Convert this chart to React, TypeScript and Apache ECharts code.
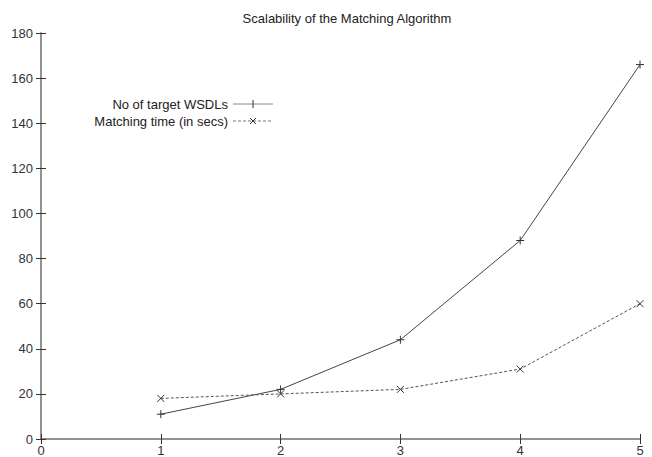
import React, { useEffect, useRef } from "react";
import * as echarts from "echarts";

const xValues = [1, 2, 3, 4, 5];
const targetWsdls = [11, 22, 44, 88, 166];
const matchingTime = [18, 20, 22, 31, 60];
const titleText = "Scalability of the Matching Algorithm";
const seriesNames = ["No of target WSDLs", "Matching time (in secs)"];

const PLUS = "path://M0,-5L0,5M-5,0L5,0";
const CROSS = "path://M-4,-4L4,4M-4,4L4,-4";

export default function App() {
  const ref = useRef<HTMLDivElement>(null);
  useEffect(() => {
    const chart = echarts.init(ref.current!, null, { renderer: "svg" });
    const axisLine = { show: true, lineStyle: { color: "#8a8a8a", width: 1.5 } };
    const tick = { show: true, inside: true, length: 5, lineStyle: { color: "#333", width: 1 } };
    const font = "Liberation Sans, Arial, sans-serif";
    const legendY = [104, 121];
    chart.setOption({
      animation: false,
      backgroundColor: "#fff",
      title: {
        text: titleText,
        left: 342,
        textAlign: "center",
        top: 7,
        textStyle: { fontSize: 13, fontWeight: "normal", color: "#222", fontFamily: font },
      },
      grid: { left: 41, right: 12, top: 33, bottom: 18, containLabel: false },
      xAxis: [
        {
          type: "value", min: 0, max: 5, interval: 1, position: "bottom",
          axisLine, axisTick: tick, splitLine: { show: false },
          axisLabel: { color: "#333", fontSize: 13, fontFamily: font, margin: 5 },
        },
        {
          type: "value", min: 0, max: 5, interval: 1, position: "top",
          axisLine, axisTick: tick, splitLine: { show: false }, axisLabel: { show: false },
        },
      ],
      yAxis: [
        {
          type: "value", min: 0, max: 180, interval: 20, position: "left",
          axisLine, axisTick: tick, splitLine: { show: false },
          axisLabel: { color: "#333", fontSize: 13, fontFamily: font, margin: 8 },
        },
        {
          type: "value", min: 0, max: 180, interval: 20, position: "right",
          axisLine, axisTick: tick, splitLine: { show: false }, axisLabel: { show: false },
        },
      ],
      series: [
        {
          name: seriesNames[0], type: "line",
          data: xValues.map((x, i) => [x, targetWsdls[i]]),
          symbol: PLUS, symbolSize: 8,
          lineStyle: { color: "#444", width: 1, type: "solid" },
          itemStyle: { color: "rgba(0,0,0,0)", borderColor: "#333", borderWidth: 1 },
        },
        {
          name: seriesNames[1], type: "line",
          data: xValues.map((x, i) => [x, matchingTime[i]]),
          symbol: CROSS, symbolSize: 7,
          lineStyle: { color: "#555", width: 1, type: [3, 2] },
          itemStyle: { color: "rgba(0,0,0,0)", borderColor: "#333", borderWidth: 1 },
        },
      ],
      graphic: [
        {
          type: "text", x: 228, y: legendY[0],
          style: { text: seriesNames[0], fill: "#222", font: `13px ${font}`, textAlign: "right", textVerticalAlign: "middle" },
        },
        {
          type: "text", x: 228, y: legendY[1],
          style: { text: seriesNames[1], fill: "#222", font: `13px ${font}`, textAlign: "right", textVerticalAlign: "middle" },
        },
        { type: "line", shape: { x1: 233, y1: legendY[0], x2: 273, y2: legendY[0] }, style: { stroke: "#888", lineWidth: 1 } },
        { type: "line", shape: { x1: 253, y1: legendY[0] - 4, x2: 253, y2: legendY[0] + 4 }, style: { stroke: "#333", lineWidth: 1 } },
        { type: "line", shape: { x1: 233, y1: legendY[1], x2: 273, y2: legendY[1] }, style: { stroke: "#777", lineWidth: 1, lineDash: [3, 2] } },
        { type: "line", shape: { x1: 250, y1: legendY[1] - 3, x2: 256, y2: legendY[1] + 3 }, style: { stroke: "#333", lineWidth: 1 } },
        { type: "line", shape: { x1: 250, y1: legendY[1] + 3, x2: 256, y2: legendY[1] - 3 }, style: { stroke: "#333", lineWidth: 1 } },
      ],
    });
    return () => chart.dispose();
  }, []);
  return <div ref={ref} style={{ width: 652, height: 457, position: "absolute", left: 0, top: 0 }} />;
}
